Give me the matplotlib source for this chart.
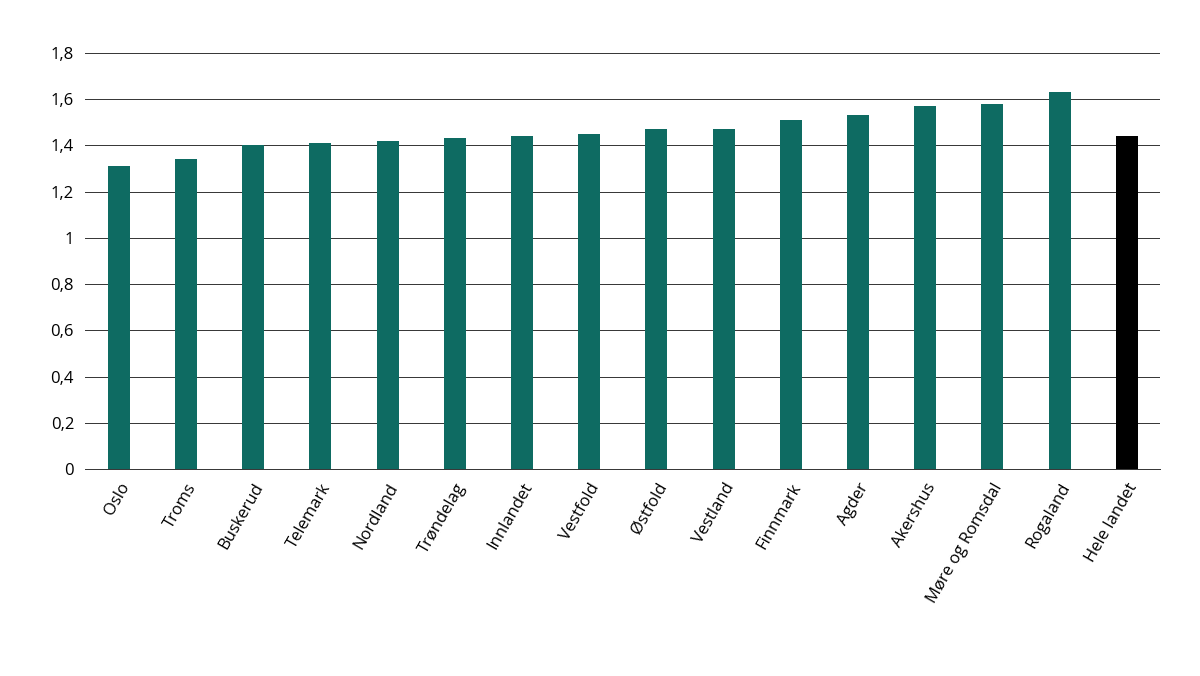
import matplotlib
matplotlib.use("Agg")
import matplotlib.pyplot as plt

categories = ["Oslo", "Troms", "Buskerud", "Telemark", "Nordland", "Trøndelag", "Innlandet",
              "Vestfold", "Østfold", "Vestland", "Finnmark", "Agder", "Akershus",
              "Møre og Romsdal", "Rogaland", "Hele landet"]
values = [1.31, 1.34, 1.40, 1.41, 1.42, 1.43, 1.44, 1.45, 1.47, 1.47, 1.51, 1.53, 1.57, 1.58, 1.63, 1.44]
yticks = [0, 0.2, 0.4, 0.6, 0.8, 1.0, 1.2, 1.4, 1.6, 1.8]
ylabels = ["0", "0,2", "0,4", "0,6", "0,8", "1", "1,2", "1,4", "1,6", "1,8"]

plt.rcParams['font.family'] = ['Open Sans', 'DejaVu Sans']
fig = plt.figure(figsize=(12, 6.76), dpi=100)
ax = fig.add_axes([0.071, 0.306, 0.896, 0.616])
colors = ["#0e6b62"] * (len(categories) - 1) + ["#000000"]
x = range(len(categories))
ax.bar(x, values, width=0.33, color=colors, zorder=3)
ax.set_xlim(-0.5, len(categories) - 0.5)
ax.set_ylim(0, 1.8)
ax.set_yticks(yticks)
ax.set_yticklabels(ylabels, fontsize=12)
ax.set_xticks(list(x))
ax.set_xticklabels(categories, rotation=60, ha="right", rotation_mode="anchor", fontsize=12)
ax.grid(axis="y", color="#333333", linewidth=0.7, zorder=0)
for s in ["top", "right", "left"]:
    ax.spines[s].set_visible(False)
ax.spines["bottom"].set_color("#333333")
ax.spines["bottom"].set_linewidth(0.7)
ax.tick_params(axis="both", length=0, pad=8)
fig.savefig("out.png")
